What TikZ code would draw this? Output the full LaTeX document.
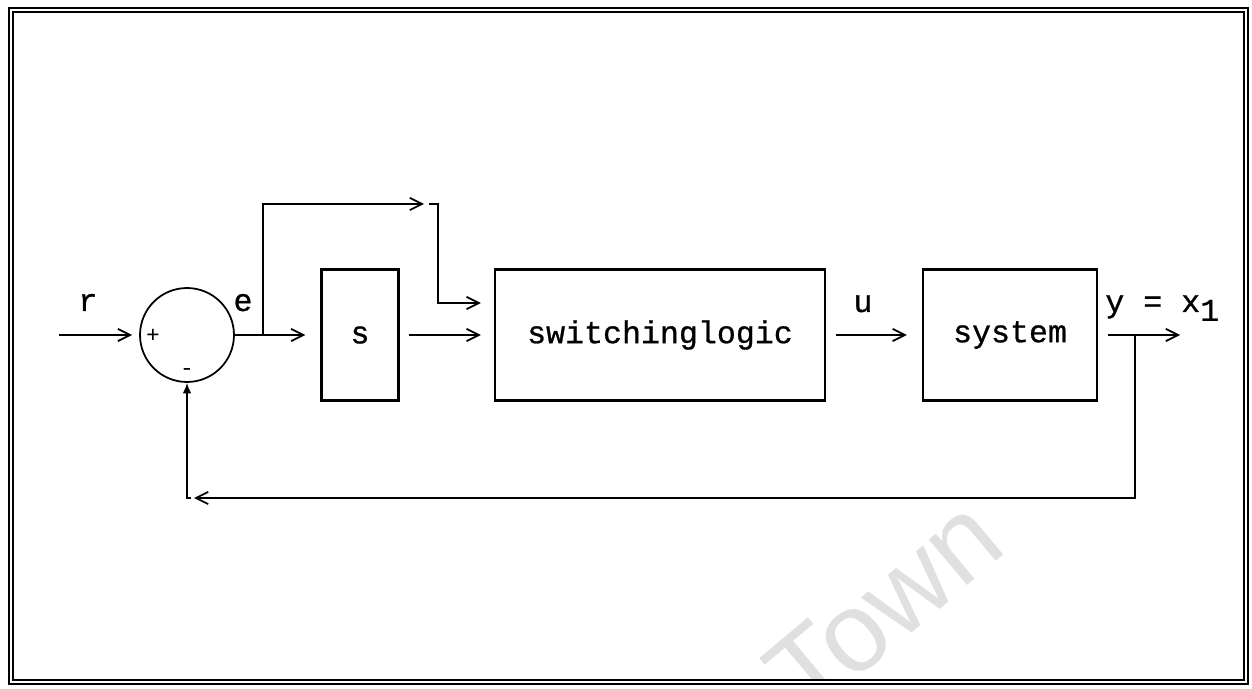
\documentclass[tikz,border=0pt]{standalone}
\usepackage{fontspec}
\newfontfamily\cour[BoldFont=Liberation Mono,BoldFeatures={FakeBold=0.8}]{Liberation Mono}
\setsansfont{Liberation Sans}
\usetikzlibrary{positioning,arrows.meta,calc}

\begin{document}
\begin{tikzpicture}[x=0.02cm,y=-0.02cm,
  font=\cour\bfseries\fontsize{18}{20}\selectfont,
  blk/.style={draw,line width=1.4pt,minimum height=2.62cm,inner sep=0pt},
  sig/.style={line width=1pt,-{Straight Barb[length=7pt,width=7pt].}},
  wire/.style={line width=1pt},
  lbl/.style={anchor=base,inner sep=0pt}]
  \useasboundingbox (0,0) rectangle (1252,689);
  % watermark
  \begin{scope}
    \clip (13,12) rectangle (1244,680);
    \node[text=black!12,rotate=40,font=\sffamily\fontsize{64}{64}\selectfont] (town) at (884,606) {Town};
  \end{scope}
  % frame
  \draw[line width=1.3pt] (9,8) rectangle (1248,684);
  \draw[line width=0.6pt] (13,12) rectangle (1244,680);

  % blocks
  \node[circle,draw,line width=1pt,minimum size=1.88cm,inner sep=0pt] (sum) at (187,335) {};
  \node[blk,minimum width=1.54cm] (sb) at (360,335) {s};
  \node[blk,minimum width=6.6cm] (logic) at (660,335) {switchinglogic};
  \node[blk,minimum width=3.48cm] (sys) at (1010,335) {system};

  % signs and labels
  \node[font=\cour\fontsize{13}{13}\selectfont,inner sep=0pt] (plus) at (153,336) {+};
  \node[font=\cour\fontsize{13}{13}\selectfont,inner sep=0pt] (minus) at (187,372) {-};
  \node[lbl] (rlab) at (88,311) {r};
  \node[lbl] (elab) at (243,311) {e};
  \node[lbl] (ulab) at (863,312) {u};
  \node[lbl,anchor=base west] (ylab) at (1105,312) {y = x\raisebox{-5pt}{1}};

  % points on the wires
  \coordinate (rin) at (59,335);
  \coordinate (ebr) at (263,335);
  \coordinate (ta) at (424,204);
  \coordinate (tb) at (429,204);
  \coordinate (tc) at (438,204);
  \coordinate (lup) at ($(logic.west)+(0,-32)$);
  \coordinate (yout) at (1180,335);
  \coordinate (ybr) at (1135,335);
  \coordinate (fbl) at (194,498);
  \coordinate (fbr) at (191,498);

  % connectors
  \draw[sig,shorten >=4pt] (rin) -- (sum.west);
  \draw[sig,shorten >=8.5pt] (sum.east) -- (sb.west);
  \draw[sig] (ebr) |- (ta);
  \draw[sig,shorten >=7.4pt] (tb) -- (tc) |- (lup);
  \draw[sig,shorten <=5pt,shorten >=7.4pt] (sb.east) -- (logic.west);
  \draw[sig,shorten <=5.5pt,shorten >=8.5pt] (logic.east) -- (sys.west);
  \draw[sig,shorten <=5.5pt] (sys.east) -- (yout);
  \draw[sig] (ybr) |- (fbl);
  \draw[wire,-{Latex[length=6pt,width=5pt]}] (fbr) -| (sum.south);
\end{tikzpicture}
\end{document}
